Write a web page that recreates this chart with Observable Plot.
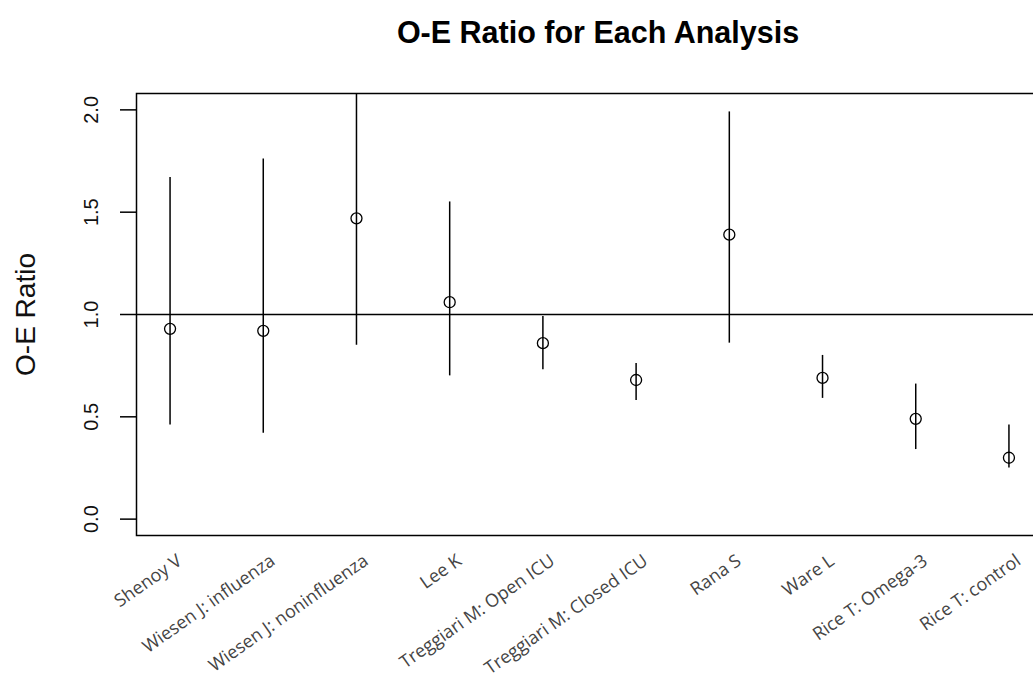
<!DOCTYPE html>
<html>
<head>
<meta charset="utf-8">
<script src="https://cdn.jsdelivr.net/npm/d3@7"></script>
<script src="https://cdn.jsdelivr.net/npm/@observablehq/plot@0.6"></script>
<style>
  html, body { margin: 0; padding: 0; overflow: hidden; background: #fff; }
  #wrap { position: relative; width: 1060px; }
  #title { position: relative; height: 70px; }
  #title span {
    position: absolute; left: 145px; width: 906px; top: 14px;
    text-align: center; font-family: "Liberation Sans", Arial, sans-serif;
    font-weight: bold; font-size: 30.5px; color: #000; line-height: 36px;
  }
  svg { display: block; }
</style>
</head>
<body>
<div id="wrap">
  <div id="title"><span>O-E Ratio for Each Analysis</span></div>
  <div id="chart"></div>
</div>
<script>
const labels = ["Shenoy V", "Wiesen J: influenza", "Wiesen J: noninfluenza", "Lee K",
  "Treggiari M: Open ICU", "Treggiari M: Closed ICU", "Rana S", "Ware L",
  "Rice T: Omega-3", "Rice T: control"];
const oeRatio = [0.93, 0.92, 1.47, 1.06, 0.86, 0.68, 1.39, 0.69, 0.49, 0.30];
const lower   = [0.46, 0.42, 0.85, 0.70, 0.73, 0.58, 0.86, 0.59, 0.34, 0.25];
const upper   = [1.67, 1.76, 2.40, 1.55, 0.99, 0.76, 1.99, 0.80, 0.66, 0.46];
const yTicks = [0, 0.5, 1, 1.5, 2];
const refLine = [1];

const rows = labels.map((name, k) => ({i: k + 1, name, oe: oeRatio[k], lo: lower[k], hi: upper[k]}));

const chart = Plot.plot({
  width: 1060,
  height: 614,
  marginLeft: 136,
  marginRight: 18,
  marginTop: 23,
  marginBottom: 149,
  style: {fontFamily: "'Liberation Sans', Arial, sans-serif", background: "#fff", color: "#000"},
  x: {domain: [0.64, 10.36], axis: null},
  y: {domain: [-0.08, 2.08], axis: null},
  marks: [
    Plot.axisY({ticks: yTicks, tickSize: 16, tickFormat: () => "", label: null, strokeWidth: 1.5}),
    Plot.text(yTicks, {y: d => d, text: d => d.toFixed(1), frameAnchor: "left", textAnchor: "middle",
      dx: -45, rotate: -90, fontSize: 20, fill: "#111"}),
    Plot.text(["O-E Ratio"], {frameAnchor: "left", textAnchor: "middle", dx: -110, rotate: -90, fontSize: 28, fill: "#111"}),
    Plot.ruleY(refLine, {stroke: "#000", strokeWidth: 1.5}),
    Plot.ruleX(rows, {x: "i", y1: "lo", y2: "hi", stroke: "#000", strokeWidth: 1.5, clip: true}),
    Plot.dot(rows, {x: "i", y: "oe", r: 5.5, stroke: "#000", fill: "none", strokeWidth: 1.3}),
    Plot.text(rows, {x: "i", text: "name", frameAnchor: "bottom", textAnchor: "end", rotate: -35,
      dx: 13, dy: 28, fontSize: 18, fill: "#444", fontFamily: "'Open Sans', sans-serif"}),
    Plot.frame({stroke: "#000", strokeWidth: 1.5})
  ]
});
document.getElementById("chart").appendChild(chart);
</script>
</body>
</html>
